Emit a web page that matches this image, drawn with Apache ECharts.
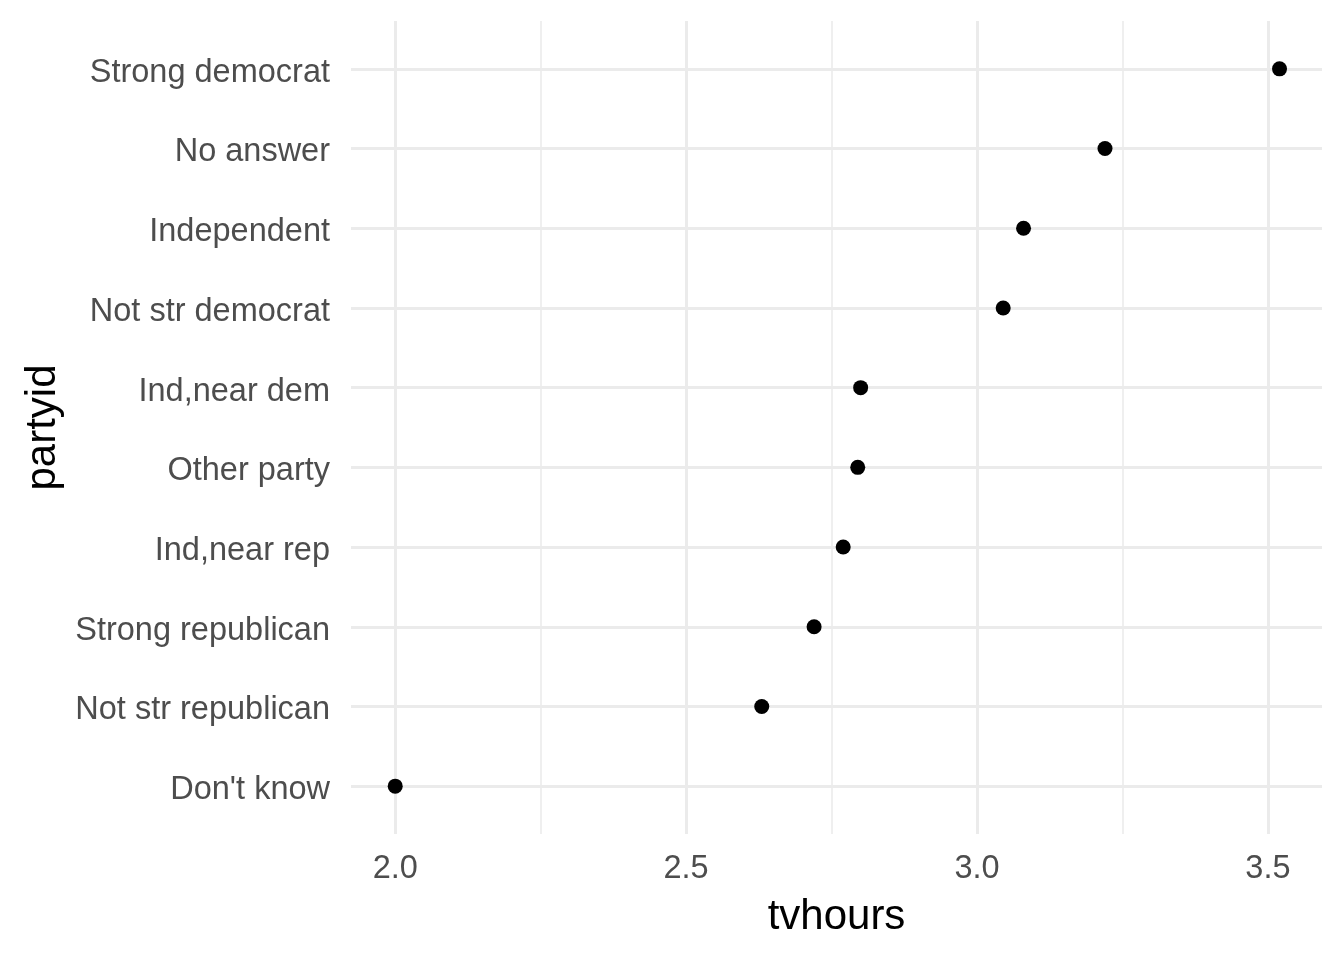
<!DOCTYPE html>
<html>
<head>
<meta charset="utf-8">
<script src="https://cdn.jsdelivr.net/npm/echarts@6/dist/echarts.min.js"></script>
<style>
html, body { margin: 0; padding: 0; background: #fff; }
#chart { width: 1344px; height: 960px; }
</style>
</head>
<body>
<div id="chart"></div>
<script>
/* categories from bottom to top */
var partyid = ["Don't know", "Not str republican", "Strong republican", "Ind,near rep",
	"Other party", "Ind,near dem", "Not str democrat", "Independent", "No answer", "Strong democrat"];
var tvhours = [2.00, 2.63, 2.72, 2.77, 2.795, 2.80, 3.045, 3.08, 3.22, 3.52];
var xMajor = [2.0, 2.5, 3.0, 3.5];
var xMinor = [2.25, 2.75, 3.25];

var points = [];
for(var i = 0; i < partyid.length; i++) {
	points.push([tvhours[i], i]);
}
var yIdx = partyid.map(function(d, i) { return i; });

var gridColor = '#ebebeb';
var fontFam = 'Liberation Sans, Arial, sans-serif';

/* grid lines drawn as marklines so they sit at the data values */
var lineData = [];
xMajor.forEach(function(v) { lineData.push({ xAxis: v, lineStyle: { width: 3 } }); });
xMinor.forEach(function(v) { lineData.push({ xAxis: v, lineStyle: { width: 1.6 } }); });
yIdx.forEach(function(v) { lineData.push({ yAxis: v, lineStyle: { width: 3 } }); });

var chart = echarts.init(document.getElementById('chart'));
chart.setOption({
	animation: false,
	backgroundColor: '#fff',
	grid: { left: 351, right: 22, top: 21, bottom: 126 },
	xAxis: {
		type: 'value',
		min: 1.924,
		max: 3.593,
		name: 'tvhours',
		nameLocation: 'middle',
		nameGap: 62,
		nameTextStyle: { fontSize: 42, color: '#000', fontFamily: fontFam },
		axisLine: { show: false },
		axisTick: { show: false },
		splitLine: { show: false },
		axisLabel: {
			customValues: xMajor,
			margin: 19,
			fontSize: 32.5,
			color: '#4d4d4d',
			fontFamily: fontFam,
			formatter: function(v) { return v.toFixed(1); }
		}
	},
	yAxis: {
		type: 'value',
		min: -0.6,
		max: 9.6,
		name: 'partyid',
		nameLocation: 'middle',
		nameGap: 286,
		nameRotate: 90,
		nameTextStyle: { fontSize: 42, color: '#000', fontFamily: fontFam },
		axisLine: { show: false },
		axisTick: { show: false },
		splitLine: { show: false },
		axisLabel: {
			customValues: yIdx,
			margin: 21,
			formatter: function(v) { return '{t|' + partyid[Math.round(v)] + '}'; },
			rich: {
				t: {
					fontSize: 32.5,
					color: '#4d4d4d',
					fontFamily: fontFam,
					padding: [8, 0, 0, 0]
				}
			}
		}
	},
	series: [{
		type: 'scatter',
		z: 10,
		symbolSize: 15,
		itemStyle: { color: '#000', opacity: 1 },
		data: points,
		markLine: {
			silent: true,
			z: 1,
			symbol: 'none',
			label: { show: false },
			emphasis: { disabled: true },
			lineStyle: { color: gridColor, type: 'solid' },
			data: lineData
		}
	}]
});
</script>
</body>
</html>
